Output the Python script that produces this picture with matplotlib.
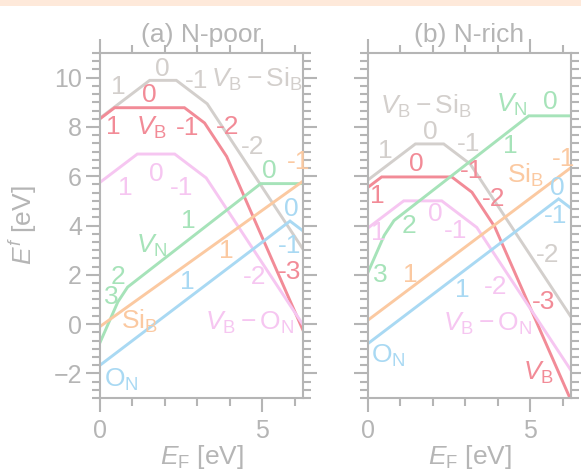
import matplotlib
matplotlib.use("Agg")
import matplotlib.pyplot as plt
from matplotlib.ticker import MultipleLocator
from matplotlib.patches import Rectangle

plt.rcParams['font.family'] = ['Liberation Sans', 'DejaVu Sans']
plt.rcParams['mathtext.fontset'] = 'custom'
plt.rcParams['mathtext.rm'] = 'Liberation Sans'
plt.rcParams['mathtext.it'] = 'Liberation Sans:italic'
plt.rcParams['mathtext.bf'] = 'Liberation Sans:bold'
plt.rcParams['font.size'] = 18

# formation energy breakpoints (E_F, E^f) for each defect
# (a) N-poor
poor_vbsib_x = [0, 1.53, 2.35, 3.30, 6.25]
poor_vbsib_y = [8.36, 9.89, 9.89, 8.94, 3.04]
poor_vb_x = [0, 0.45, 2.60, 3.22, 3.90, 6.25]
poor_vb_y = [8.33, 8.78, 8.78, 8.16, 6.80, -0.25]
poor_vbon_x = [0, 1.15, 2.30, 3.27, 6.25]
poor_vbon_y = [5.75, 6.90, 6.90, 5.93, -0.03]
poor_vn_x = [0, 0.55, 0.85, 4.95, 6.25]
poor_vn_y = [-0.75, 0.90, 1.50, 5.70, 5.70]
poor_sib_x = [0, 6.25]
poor_sib_y = [-0.10, 5.80]
poor_on_x = [0, 5.85, 6.25]
poor_on_y = [-1.67, 4.18, 3.78]

# (b) N-rich
rich_vbsib_x = [0, 1.46, 2.33, 3.15, 6.25]
rich_vbsib_y = [5.85, 7.31, 7.31, 6.49, 0.29]
rich_vb_x = [0, 0.42, 2.58, 3.20, 3.90, 6.25]
rich_vb_y = [5.55, 5.97, 5.97, 5.35, 3.95, -3.10]
rich_vbon_x = [0, 1.10, 2.27, 3.35, 6.25]
rich_vbon_y = [3.90, 5.00, 5.00, 3.92, -1.88]
rich_vn_x = [0, 0.50, 0.80, 4.95, 6.25]
rich_vn_y = [2.10, 3.60, 4.20, 8.45, 8.45]
rich_sib_x = [0, 6.25]
rich_sib_y = [0.16, 6.35]
rich_on_x = [0, 5.87, 6.25]
rich_on_y = [-0.79, 5.08, 4.70]

c_gray = '#d3cfcc'
c_red = '#f28b97'
c_pink = '#f6c6f1'
c_green = '#a6e3b9'
c_orange = '#fbc9a1'
c_blue = '#a9d9f3'
c_axis = '#b5b5b5'

VBSIB = r'$V_\mathrm{B}-\mathrm{Si}_\mathrm{B}$'
VB = r'$V_\mathrm{B}$'
VBON = r'$V_\mathrm{B}-\mathrm{O}_\mathrm{N}$'
VN = r'$V_\mathrm{N}$'
SIB = r'$\mathrm{Si}_\mathrm{B}$'
ON = r'$\mathrm{O}_\mathrm{N}$'

poor_lines = [
    (poor_vbsib_x, poor_vbsib_y, c_gray),
    (poor_vb_x, poor_vb_y, c_red),
    (poor_vbon_x, poor_vbon_y, c_pink),
    (poor_vn_x, poor_vn_y, c_green),
    (poor_sib_x, poor_sib_y, c_orange),
    (poor_on_x, poor_on_y, c_blue),
]
rich_lines = [
    (rich_vbsib_x, rich_vbsib_y, c_gray),
    (rich_vb_x, rich_vb_y, c_red),
    (rich_vbon_x, rich_vbon_y, c_pink),
    (rich_vn_x, rich_vn_y, c_green),
    (rich_sib_x, rich_sib_y, c_orange),
    (rich_on_x, rich_on_y, c_blue),
]

# charge-state and defect labels: text, x, y, colour, ha
poor_labels = [
    ('1', 0.55, 9.63, c_gray, 'center'), ('0', 1.93, 10.37, c_gray, 'center'),
    ('-1', 2.98, 9.88, c_gray, 'center'), (VBSIB, 3.42, 9.92, c_gray, 'left'),
    ('-2', 4.70, 7.17, c_gray, 'center'),
    ('0', 1.53, 9.28, c_red, 'center'), ('1', 0.41, 7.99, c_red, 'center'),
    (VB, 1.58, 7.95, c_red, 'center'), ('-1', 2.71, 7.95, c_red, 'center'),
    ('-2', 3.94, 7.99, c_red, 'center'), ('-3', 5.83, 2.13, c_red, 'center'),
    ('1', 0.77, 5.54, c_pink, 'center'), ('0', 1.74, 6.08, c_pink, 'center'),
    ('-1', 2.50, 5.54, c_pink, 'center'), ('-2', 4.75, 1.93, c_pink, 'center'),
    (VBON, 4.60, 0.05, c_pink, 'center'),
    ('0', 5.21, 6.22, c_green, 'center'), ('1', 2.71, 4.18, c_green, 'center'),
    (VN, 1.58, 3.18, c_green, 'center'), ('2', 0.56, 1.93, c_green, 'center'),
    ('3', 0.34, 1.11, c_green, 'center'),
    (SIB, 1.23, 0.12, c_orange, 'center'), ('1', 3.89, 2.95, c_orange, 'center'),
    ('-1', 6.10, 6.57, c_orange, 'center'),
    ('0', 5.88, 4.65, c_blue, 'center'), ('-1', 5.83, 3.16, c_blue, 'center'),
    ('1', 2.70, 1.72, c_blue, 'center'), (ON, 0.67, -2.25, c_blue, 'center'),
]
rich_labels = [
    (VBSIB, 1.79, 8.83, c_gray, 'center'), ('1', 0.52, 7.03, c_gray, 'center'),
    ('0', 1.91, 7.78, c_gray, 'center'), ('-1', 3.10, 7.31, c_gray, 'center'),
    ('-2', 5.52, 2.82, c_gray, 'center'),
    ('0', 1.50, 6.49, c_red, 'center'), ('1', 0.29, 5.20, c_red, 'center'),
    ('-1', 3.20, 6.22, c_red, 'center'), ('-2', 3.87, 5.06, c_red, 'center'),
    ('-3', 5.41, 0.91, c_red, 'center'), (VB, 5.26, -2.0, c_red, 'center'),
    ('1', 0.32, 3.70, c_pink, 'center'), ('0', 2.07, 4.45, c_pink, 'center'),
    ('-1', 2.69, 3.77, c_pink, 'center'), ('-2', 3.92, 1.52, c_pink, 'center'),
    (VBON, 3.69, -0.01, c_pink, 'center'),
    (VN, 4.43, 8.90, c_green, 'center'), ('0', 5.62, 9.00, c_green, 'center'),
    ('1', 4.38, 7.24, c_green, 'center'), ('2', 1.25, 3.97, c_green, 'center'),
    ('3', 0.37, 2.00, c_green, 'center'),
    (SIB, 4.85, 6.04, c_orange, 'center'), ('1', 1.30, 2.00, c_orange, 'center'),
    ('-1', 6.03, 6.69, c_orange, 'center'),
    ('0', 5.82, 5.54, c_blue, 'center'), ('-1', 5.77, 4.38, c_blue, 'center'),
    ('1', 2.89, 1.39, c_blue, 'center'), (ON, 0.63, -1.31, c_blue, 'center'),
]

fig = plt.figure(figsize=(5.81, 4.74), dpi=100)
fig.patches.append(Rectangle((0, 1 - 5.5 / 474), 1, 5.5 / 474, transform=fig.transFigure,
                             facecolor='#fee9da', edgecolor='none'))

ax_a = fig.add_axes([100 / 581, 76 / 474, 203 / 581, 345 / 474])
ax_b = fig.add_axes([368 / 581, 76 / 474, 203 / 581, 345 / 474])

panels = [
    (ax_a, poor_lines, poor_labels, '(a) N-poor'),
    (ax_b, rich_lines, rich_labels, '(b) N-rich'),
]
for ax, lines, labels, title in panels:
    for xs, ys, col in lines:
        ax.plot(xs, ys, color=col, lw=2.1, solid_joinstyle='miter')
    for txt, x, y, col, ha in labels:
        ax.text(x, y, txt, color=col, ha=ha, va='center', fontsize=19)

    ax.set_xlim(0, 6.25)
    ax.set_ylim(-3, 11)
    ax.xaxis.set_major_locator(MultipleLocator(5))
    ax.xaxis.set_minor_locator(MultipleLocator(1))
    ax.yaxis.set_major_locator(MultipleLocator(2))
    ax.yaxis.set_minor_locator(MultipleLocator(1 / 3))
    for s in ax.spines.values():
        s.set_color(c_axis)
        s.set_linewidth(1.5)
    ax.tick_params(which='both', direction='out', top=True, right=True,
                   color=c_axis, width=1.5, labelcolor=c_axis, labelsize=18)
    ax.tick_params(which='major', length=10)
    ax.tick_params(which='minor', length=6)
    ax.tick_params(axis='x', pad=5)
    ax.tick_params(axis='y', pad=3)
    ax.set_xlabel(r'$E_\mathrm{F}$ [eV]', color=c_axis, fontsize=19, labelpad=0)
    ax.text(0.5, 1.032, title, transform=ax.transAxes, ha='center', va='baseline',
            color=c_axis, fontsize=19)

ax_b.tick_params(axis='y', labelleft=False)
ax_a.set_ylabel(r'$E^f$ [eV]', color=c_axis, fontsize=19)
ax_a.yaxis.set_label_coords(-0.30, 0.5)

fig.savefig('out.png', dpi=100)
